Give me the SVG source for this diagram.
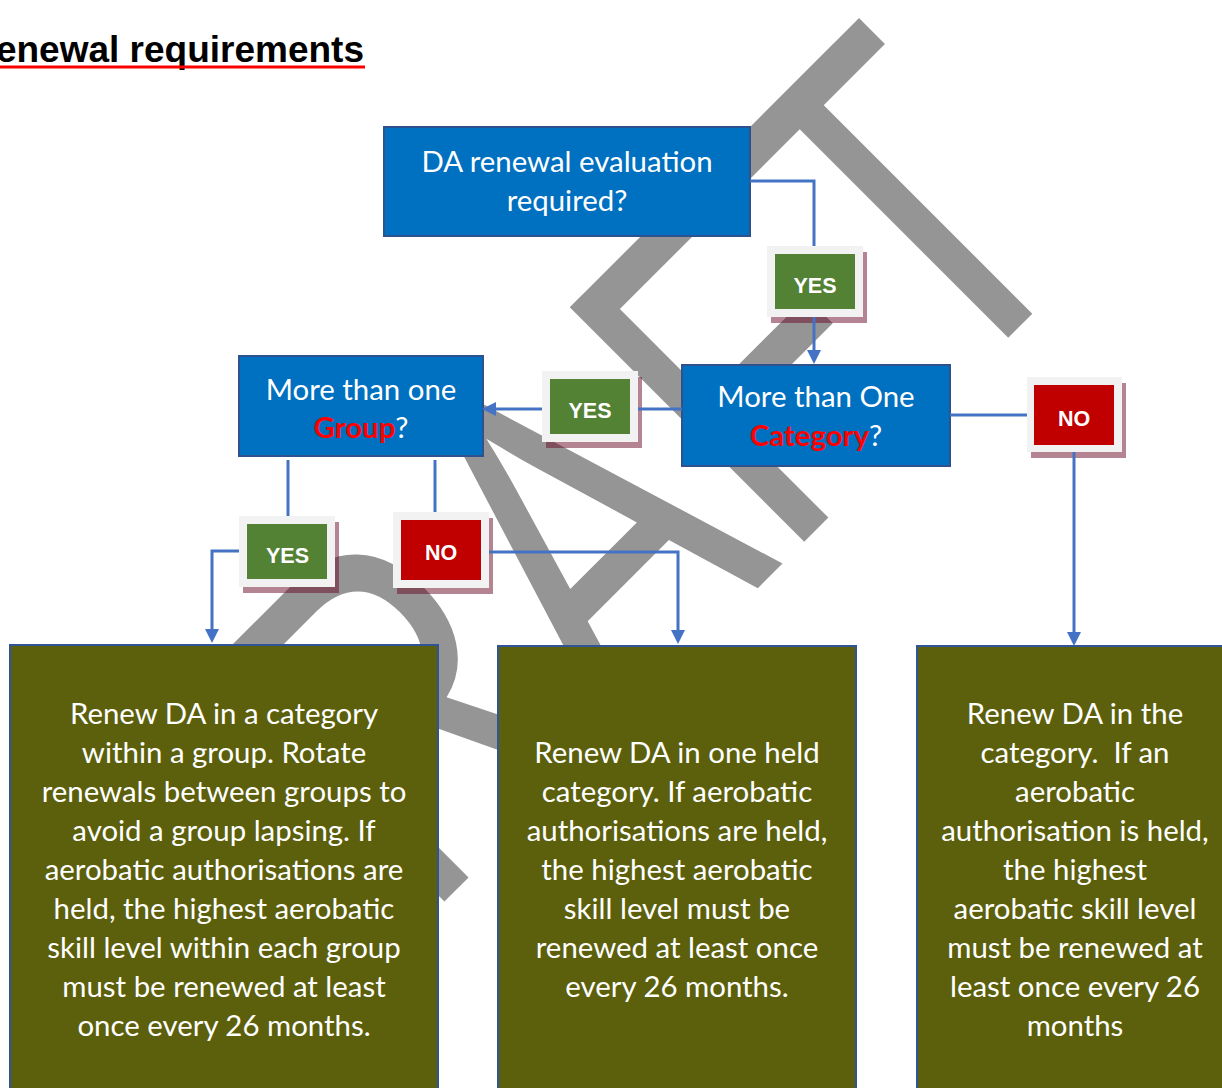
<svg xmlns="http://www.w3.org/2000/svg" width="1222" height="1088" viewBox="0 0 1222 1088">
<defs>
<style>
.wm{font-family:"Liberation Sans",Arial,sans-serif;font-size:482px;fill:#959595}
.ttl{font-family:"Liberation Sans",Arial,sans-serif;font-size:37px;font-weight:bold;fill:#000;text-anchor:end}
.dec{fill:#0070C0;stroke:#2F528F;stroke-width:2}
.res{fill:#5C5F0B;stroke:#2F5597;stroke-width:2}
.t{font-family:Lato,"Open Sans",sans-serif;font-size:29.4px;fill:#fff;text-anchor:middle}
.red{fill:#FF0000;font-weight:bold}
.frame{fill:#F2F2F2}
.shadow{fill:#6A0A28;opacity:.5}
.yes{fill:#548235}
.no{fill:#C00000}
.lbl{font-family:"Liberation Sans",Arial,sans-serif;font-size:21.5px;font-weight:bold;fill:#fff;text-anchor:middle}
.c{fill:none;stroke:#4472C4;stroke-width:3}
</style>
<marker id="arr" markerUnits="userSpaceOnUse" markerWidth="14" markerHeight="14" refX="6" refY="7" orient="auto"><path d="M0,0 L14,7 L0,14 z" fill="#4472C4"/></marker>
</defs>
<rect x="0" y="0" width="1222" height="1088" fill="#fff"/>
<g id="watermark">
<text class="wm" transform="translate(673,673) rotate(-45) scale(0.76,1)" x="-813" y="0">DRAFT</text>
</g>
<g id="title">
<text class="ttl" x="364" y="62">enewal requirements</text>
<rect x="0" y="65.5" width="365" height="3" fill="#FF0000"/>
</g>
<g id="q-evaluation">
<rect class="dec" x="384" y="127" width="366" height="109"/>
<text class="t" x="567" y="172">DA renewal evaluation</text>
<text class="t" x="567" y="211">required?</text>
</g>
<g id="q-category">
<rect class="dec" x="682" y="365" width="268" height="101"/>
<text class="t" x="816" y="407">More than One</text>
<text class="t" x="816" y="446"><tspan class="red">Category</tspan>?</text>
</g>
<g id="q-group">
<rect class="dec" x="239" y="356" width="244" height="100"/>
<text class="t" x="361" y="399.5">More than one</text>
<text class="t" x="361" y="438"><tspan class="red">Group</tspan>?</text>
</g>
<g id="r-group">
<rect class="res" x="10" y="645" width="428" height="460"/>
<text class="t" x="224" y="724">Renew DA in a category</text>
<text class="t" x="224" y="763">within a group. Rotate</text>
<text class="t" x="224" y="802">renewals between groups to</text>
<text class="t" x="224" y="841">avoid a group lapsing. If</text>
<text class="t" x="224" y="880">aerobatic authorisations are</text>
<text class="t" x="224" y="919">held, the highest aerobatic</text>
<text class="t" x="224" y="958">skill level within each group</text>
<text class="t" x="224" y="997">must be renewed at least</text>
<text class="t" x="224" y="1036">once every 26 months.</text>
</g>
<g id="r-one-category">
<rect class="res" x="498" y="646" width="358" height="460"/>
<text class="t" x="677" y="763">Renew DA in one held</text>
<text class="t" x="677" y="802">category. If aerobatic</text>
<text class="t" x="677" y="841">authorisations are held,</text>
<text class="t" x="677" y="880">the highest aerobatic</text>
<text class="t" x="677" y="919">skill level must be</text>
<text class="t" x="677" y="958">renewed at least once</text>
<text class="t" x="677" y="997">every 26 months.</text>
</g>
<g id="r-single">
<rect class="res" x="917" y="646" width="316" height="460"/>
<text class="t" x="1075" y="724">Renew DA in the</text>
<text class="t" x="1075" y="763" style="white-space:pre">category.  If an</text>
<text class="t" x="1075" y="802">aerobatic</text>
<text class="t" x="1075" y="841">authorisation is held,</text>
<text class="t" x="1075" y="880">the highest</text>
<text class="t" x="1075" y="919">aerobatic skill level</text>
<text class="t" x="1075" y="958">must be renewed at</text>
<text class="t" x="1075" y="997">least once every 26</text>
<text class="t" x="1075" y="1036">months</text>
</g>
<g id="l-yes-1">
<rect class="shadow" x="771" y="252" width="96" height="71"/>
<rect class="frame" x="767" y="246" width="96" height="71"/>
<rect class="yes" x="775" y="254" width="80" height="55"/>
<text class="lbl" x="815" y="292.5">YES</text>
</g>
<g id="l-yes-2">
<rect class="shadow" x="546" y="377" width="96" height="71"/>
<rect class="frame" x="542" y="371" width="96" height="71"/>
<rect class="yes" x="550" y="379" width="80" height="55"/>
<text class="lbl" x="590" y="417.5">YES</text>
</g>
<g id="l-yes-3">
<rect class="shadow" x="243" y="522" width="96" height="71"/>
<rect class="frame" x="239" y="516" width="96" height="71"/>
<rect class="yes" x="247" y="524" width="80" height="55"/>
<text class="lbl" x="287.5" y="562.5">YES</text>
</g>
<g id="l-no-1">
<rect class="shadow" x="397" y="518" width="96" height="76"/>
<rect class="frame" x="393" y="512" width="96" height="76"/>
<rect class="no" x="401" y="520" width="80" height="60"/>
<text class="lbl" x="441" y="560">NO</text>
</g>
<g id="l-no-2">
<rect class="shadow" x="1031" y="383" width="95" height="75"/>
<rect class="frame" x="1027" y="377" width="95" height="75"/>
<rect class="no" x="1034" y="385" width="80" height="60"/>
<text class="lbl" x="1074" y="426">NO</text>
</g>
<g id="connectors">
<path class="c" d="M750,181 H814 V246"/>
<path class="c" d="M814,317 V356" marker-end="url(#arr)"/>
<path class="c" d="M682,409 H638"/>
<path class="c" d="M542,409 H490" marker-end="url(#arr)"/>
<path class="c" d="M950,415 H1027"/>
<path class="c" d="M1074,452 V638" marker-end="url(#arr)"/>
<path class="c" d="M288,460 V516"/>
<path class="c" d="M239,551 H212 V635" marker-end="url(#arr)"/>
<path class="c" d="M435,460 V512"/>
<path class="c" d="M489,552 H678 V636" marker-end="url(#arr)"/>
</g>
</svg>
